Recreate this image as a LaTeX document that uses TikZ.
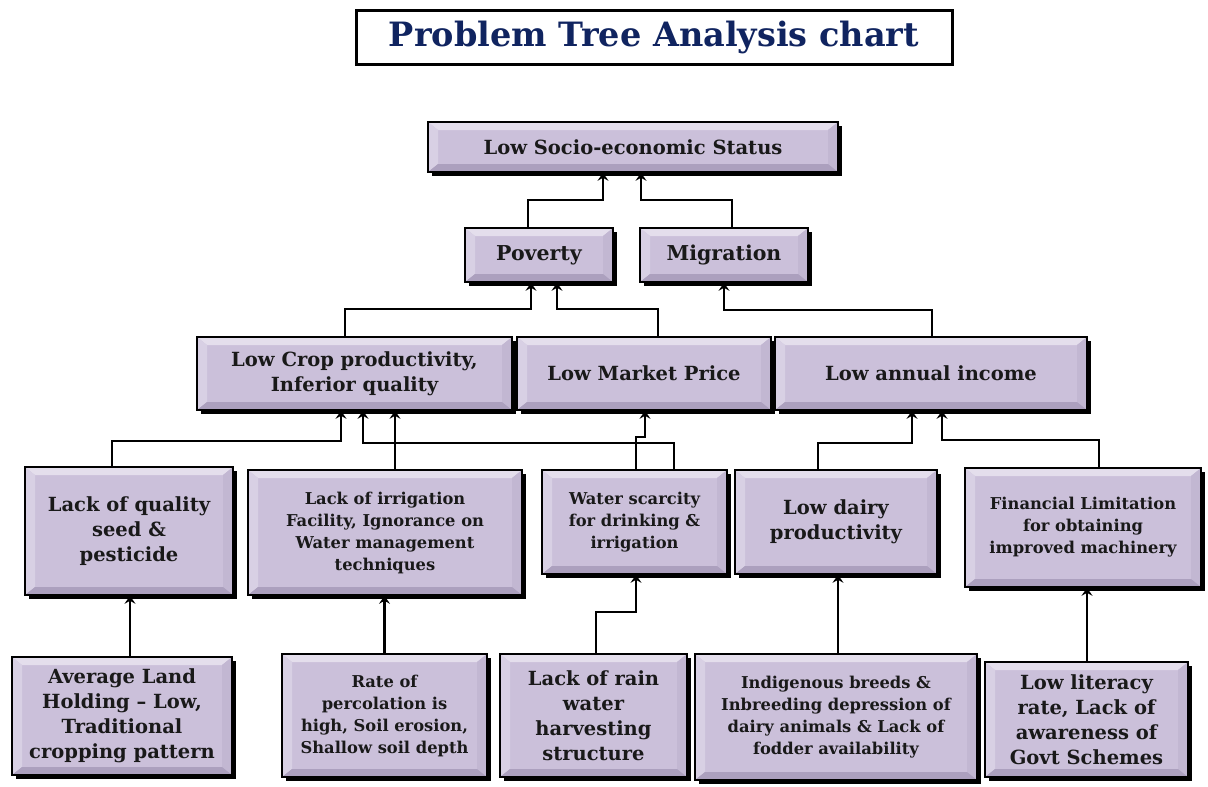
\documentclass[tikz,border=0pt]{standalone}
\usepackage{fontspec}
\setmainfont{DejaVu Serif}
\usetikzlibrary{arrows.meta}
\definecolor{lav}{RGB}{203,192,218}
\definecolor{bevtop}{RGB}{228,222,236}
\definecolor{bevleft}{RGB}{216,208,228}
\definecolor{bevright}{RGB}{194,183,210}
\definecolor{bevbot}{RGB}{172,160,190}
\definecolor{navy}{RGB}{16,36,96}
\definecolor{ink}{RGB}{25,25,25}
\tikzset{
  bx/.style={draw=black, line width=1.6pt, fill=lav, align=center, inner sep=0pt, text=ink,
    preaction={fill=black, transform canvas={shift={(4pt,-4pt)}}},
    path picture={
      \fill[bevtop] (path picture bounding box.north west) -- (path picture bounding box.north east)
        -- ([shift={(-10pt,-8pt)}]path picture bounding box.north east) -- ([shift={(10pt,-8pt)}]path picture bounding box.north west) -- cycle;
      \fill[bevleft] (path picture bounding box.north west) -- ([shift={(10pt,-8pt)}]path picture bounding box.north west)
        -- ([shift={(10pt,8pt)}]path picture bounding box.south west) -- (path picture bounding box.south west) -- cycle;
      \fill[bevright] (path picture bounding box.north east) -- ([shift={(-10pt,-8pt)}]path picture bounding box.north east)
        -- ([shift={(-10pt,8pt)}]path picture bounding box.south east) -- (path picture bounding box.south east) -- cycle;
      \fill[bevbot] (path picture bounding box.south west) -- ([shift={(10pt,8pt)}]path picture bounding box.south west)
        -- ([shift={(-10pt,8pt)}]path picture bounding box.south east) -- (path picture bounding box.south east) -- cycle;
    }},
  big/.style={font=\bfseries\fontsize{19.5}{25}\selectfont},
  small/.style={font=\bfseries\fontsize{16.3}{22}\selectfont},
  conn/.style={line width=2.4pt, -{Stealth[length=8pt,width=11pt,inset=3pt]}},
}
\begin{document}
\begin{tikzpicture}[x=1pt,y=-1pt]
\useasboundingbox (0,0) rectangle (1208,787);
% title
\node[draw=black, line width=3pt, fill=white, minimum width=596, minimum height=54, inner sep=0pt,
      text=navy, font=\bfseries\fontsize{33.5}{38}\selectfont] (title) at (654,37.5) {Problem Tree Analysis chart};
% level 1
\node[bx, big, minimum width=410, minimum height=50] (lss) at (633,147) {Low Socio-economic Status};
% level 2
\node[bx, font=\bfseries\fontsize{20.5}{25}\selectfont, minimum width=148, minimum height=54] (pov) at (539,255) {Poverty};
\node[bx, font=\bfseries\fontsize{20.5}{25}\selectfont, minimum width=168, minimum height=54] (mig) at (724,255) {Migration};
% level 3
\node[bx, big, minimum width=315, minimum height=73] (crop) at (354.5,373.5) {Low Crop productivity,\\Inferior quality};
\node[bx, big, minimum width=254, minimum height=73] (mkt) at (644,373.5) {Low Market Price};
\node[bx, big, minimum width=312, minimum height=73] (inc) at (931,373.5) {Low annual income};
% level 4
\node[bx, big, minimum width=208, minimum height=128] (seed) at (129,531) {Lack of quality\\seed \&\\pesticide};
\node[bx, small, minimum width=274, minimum height=125] (irr) at (385,532.5) {Lack of irrigation\\Facility, Ignorance on\\Water management\\techniques};
\node[bx, small, minimum width=185, minimum height=104] (water) at (634.5,522) {Water scarcity\\for drinking \&\\irrigation};
\node[bx, big, minimum width=202, minimum height=104] (dairy) at (836,522) {Low dairy\\productivity};
\node[bx, small, minimum width=236, minimum height=119] (fin) at (1083,527.5) {Financial Limitation\\for obtaining\\improved machinery};
% level 5
\node[bx, big, minimum width=220, minimum height=118] (land) at (122,716) {Average Land\\Holding -- Low,\\Traditional\\cropping pattern};
\node[bx, small, minimum width=205, minimum height=123] (perc) at (384.5,715.5) {Rate of\\percolation is\\high, Soil erosion,\\Shallow soil depth};
\node[bx, big, minimum width=187, minimum height=123] (rain) at (593.5,715.5) {Lack of rain\\water\\harvesting\\structure};
\node[bx, small, minimum width=282, minimum height=126] (indi) at (836,717) {Indigenous breeds \&\\Inbreeding depression of\\dairy animals \& Lack of\\fodder availability};
\node[bx, big, minimum width=203, minimum height=115] (lit) at (1086.5,719.5) {Low literacy\\rate, Lack of\\awareness of\\Govt Schemes};
% junction coordinates
\coordinate (j1) at (603,200);
\coordinate (j2) at (641,200);
\coordinate (j3) at (531,309);
\coordinate (j4) at (557,309);
\coordinate (j5) at (724,310);
\coordinate (j6) at (341,441);
\coordinate (j7) at (363,443);
\coordinate (j8) at (645,437);
\coordinate (j9) at (912,443);
\coordinate (j10) at (942,440);
\coordinate (j11) at (636,612);
% connectors
\draw[conn] ([xshift=-11pt]pov.north) |- (j1) -- (j1 |- lss.south);
\draw[conn] ([xshift=8pt]mig.north) |- (j2) -- (j2 |- lss.south);
\draw[conn] ([xshift=-9.5pt]crop.north) |- (j3) -- (j3 |- pov.south);
\draw[conn] ([xshift=14pt]mkt.north) |- (j4) -- (j4 |- pov.south);
\draw[conn] ([xshift=1pt]inc.north) |- (j5) -- (j5 |- mig.south);
\draw[conn] ([xshift=-17pt]seed.north) |- (j6) -- (j6 |- crop.south);
\draw[conn] ([xshift=10pt]irr.north) -- ([xshift=10pt]irr.north |- crop.south);
\draw[conn] ([xshift=39.5pt]water.north) |- (j7) -- (j7 |- crop.south);
\draw[conn] ([xshift=1.5pt]water.north) |- (j8) -- (j8 |- mkt.south);
\draw[conn] ([xshift=-18pt]dairy.north) |- (j9) -- (j9 |- inc.south);
\draw[conn] ([xshift=16pt]fin.north) |- (j10) -- (j10 |- inc.south);
\draw[conn] ([xshift=8pt]land.north) -- ([xshift=8pt]land.north |- seed.south);
\draw[conn] (perc.north) -- (perc.north |- irr.south);
\draw[conn] ([xshift=2.5pt]rain.north) |- (j11) -- (j11 |- water.south);
\draw[conn] ([xshift=2pt]indi.north) -- ([xshift=2pt]indi.north |- dairy.south);
\draw[conn] ([xshift=0.5pt]lit.north) -- ([xshift=0.5pt]lit.north |- fin.south);
\end{tikzpicture}
\end{document}
